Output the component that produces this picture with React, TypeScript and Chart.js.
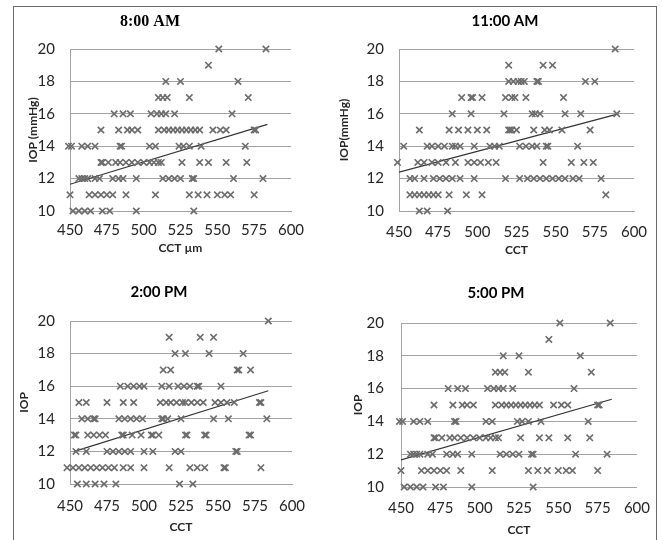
import React, { useEffect, useRef } from 'react';
import { Chart, registerables } from 'chart.js';

Chart.register(...registerables);

type Rows = [number, number[]][];

// IOP value -> list of CCT readings at that IOP
const am8Rows: Rows = [
  [20, [551, 583]],
  [19, [544]],
  [18, [515, 525, 564]],
  [17, [510, 513, 516, 531, 571]],
  [16, [480, 486, 491, 505, 509, 512, 515, 521, 560]],
  [15, [471, 483, 489, 492, 496, 510, 514, 517, 520, 523, 526, 529, 532, 535, 538, 547, 552, 556, 575, 576]],
  [14, [449, 451, 458, 462, 467, 484, 485, 504, 508, 524, 527, 531, 539, 569]],
  [13, [471, 472, 476, 481, 484, 488, 492, 496, 500, 504, 507, 510, 512, 526, 538, 544, 556, 570]],
  [12, [456, 458, 460, 462, 467, 470, 479, 483, 486, 495, 513, 517, 521, 525, 533, 534, 561, 581]],
  [11, [450, 463, 467, 471, 475, 479, 488, 508, 531, 537, 543, 550, 555, 559, 575]],
  [10, [452, 456, 460, 464, 472, 477, 495, 534]],
];

const am11Rows: Rows = [
  [20, [588]],
  [19, [520, 542, 548]],
  [18, [520, 523, 526, 528, 530, 538, 539, 569, 575]],
  [17, [490, 496, 497, 503, 518, 522, 524, 531, 555]],
  [16, [484, 496, 517, 535, 537, 540, 556, 566, 589]],
  [15, [463, 482, 488, 494, 500, 506, 520, 521, 522, 525, 536, 543, 546, 554, 572]],
  [14, [453, 468, 471, 475, 479, 484, 486, 489, 498, 508, 511, 514, 527, 531, 535, 538, 544, 545, 564]],
  [13, [449, 462, 466, 471, 475, 480, 486, 494, 498, 502, 507, 512, 542, 560, 568, 574]],
  [12, [457, 460, 466, 472, 476, 480, 484, 489, 498, 518, 527, 532, 536, 540, 544, 548, 552, 556, 561, 565, 579]],
  [11, [457, 460, 463, 466, 469, 472, 475, 482, 493, 503, 582]],
  [10, [463, 468, 481]],
];

const pm2Rows: Rows = [
  [20, [584]],
  [19, [517, 538, 547]],
  [18, [521, 528, 544, 567]],
  [17, [513, 518, 563, 564, 572]],
  [16, [484, 489, 493, 497, 500, 512, 517, 523, 527, 531, 536, 537, 552]],
  [15, [456, 461, 475, 486, 493, 511, 515, 518, 522, 526, 528, 532, 536, 540, 548, 552, 556, 561, 578, 579]],
  [14, [458, 462, 466, 467, 483, 487, 491, 495, 499, 512, 513, 516, 525, 547, 557, 583]],
  [13, [453, 454, 462, 466, 470, 474, 485, 486, 492, 498, 505, 506, 510, 528, 529, 541, 542, 571, 572]],
  [12, [454, 461, 475, 479, 483, 487, 491, 500, 506, 521, 525, 562, 563]],
  [11, [448, 452, 456, 460, 464, 468, 472, 476, 480, 486, 491, 500, 517, 531, 536, 541, 554, 555, 579]],
  [10, [455, 461, 467, 473, 481, 524, 533]],
];

const pm5Rows: Rows = [
  [20, [551, 583]],
  [19, [544]],
  [18, [515, 525, 564]],
  [17, [510, 513, 516, 531, 571]],
  [16, [480, 486, 491, 505, 509, 512, 515, 521, 560]],
  [15, [471, 483, 489, 492, 496, 510, 514, 517, 520, 523, 526, 529, 532, 535, 538, 547, 552, 556, 575, 576]],
  [14, [449, 451, 458, 462, 467, 484, 485, 504, 508, 524, 527, 531, 539, 569]],
  [13, [471, 472, 476, 481, 484, 488, 492, 496, 500, 504, 507, 510, 512, 526, 538, 544, 556, 570]],
  [12, [456, 458, 460, 462, 467, 470, 479, 483, 486, 495, 513, 517, 521, 525, 533, 534, 561, 581]],
  [11, [450, 463, 467, 471, 475, 479, 488, 508, 531, 537, 543, 550, 555, 559, 575]],
  [10, [452, 456, 460, 464, 472, 477, 495, 534]],
];

// linear trend lines: [CCT, IOP] endpoints
const am8Trend: [number, number][] = [[450, 11.65], [584, 15.35]];
const am11Trend: [number, number][] = [[450, 12.4], [590, 16.0]];
const pm2Trend: [number, number][] = [[453, 12.0], [584, 15.72]];
const pm5Trend: [number, number][] = [[450, 11.65], [584, 15.35]];

const xTicks = [450, 475, 500, 525, 550, 575, 600];
const yTicks = [10, 12, 14, 16, 18, 20];

const W = 662;
const H = 540;

interface PanelCfg {
  title: string;
  titleFamily: string;
  titleSize: number;
  titlePad: { top: number; bottom: number };
  rows: Rows;
  trend: [number, number][];
  xTitle: string;
  yTitle: string;
  pad: { left: number; right: number; top: number; bottom: number };
  yWidth: number;
  rightGap: number;
  xHeight: number;
  yTitlePad: number;
  xTitlePad: number;
  yTickPad: number;
  xTickPad: number;
}

const panels: PanelCfg[] = [
  {
    title: '8:00 AM', titleFamily: '"Liberation Serif", serif', titleSize: 16,
    titlePad: { top: 12.4, bottom: 17.4 }, rows: am8Rows, trend: am8Trend,
    xTitle: 'CCT µm', yTitle: 'IOP (mmHg)',
    pad: { left: 9, right: 371, top: 0, bottom: 279 }, yWidth: 61, rightGap: 0, xHeight: 50,
    yTitlePad: 17.3, xTitlePad: 5.8, yTickPad: 15, xTickPad: 10,
  },
  {
    title: '11:00 AM', titleFamily: 'Lato, sans-serif', titleSize: 15,
    titlePad: { top: 12.5, bottom: 18.5 }, rows: am11Rows, trend: am11Trend,
    xTitle: 'CCT', yTitle: 'IOP(mmHg)',
    pad: { left: 360, right: 12, top: 0, bottom: 279 }, yWidth: 39, rightGap: 16, xHeight: 50,
    yTitlePad: -23.2, xTitlePad: 3.8, yTickPad: 15, xTickPad: 12,
  },
  {
    title: '2:00 PM', titleFamily: 'Lato, sans-serif', titleSize: 15,
    titlePad: { top: 13, bottom: 20 }, rows: pm2Rows, trend: pm2Trend,
    xTitle: 'CCT', yTitle: 'IOP',
    pad: { left: 26, right: 370, top: 270, bottom: 4 }, yWidth: 44, rightGap: 0, xHeight: 52,
    yTitlePad: -9.2, xTitlePad: 1.3, yTickPad: 15, xTickPad: 13,
  },
  {
    title: '5:00 PM', titleFamily: 'Lato, sans-serif', titleSize: 15,
    titlePad: { top: 14, bottom: 21 }, rows: pm5Rows, trend: pm5Trend,
    xTitle: 'CCT', yTitle: 'IOP',
    pad: { left: 353, right: 23, top: 270, bottom: 1 }, yWidth: 48, rightGap: 0, xHeight: 52,
    yTitlePad: -2.2, xTitlePad: 1.8, yTickPad: 17, xTickPad: 12,
  },
];

const GRID = '#a3a3a3';
const MARK = '#6c6c6c';
const TEXT = '#262626';

function Panel({ cfg }: { cfg: PanelCfg }) {
  const ref = useRef<HTMLCanvasElement | null>(null);
  useEffect(() => {
    if (!ref.current) return;
    const points = cfg.rows.flatMap(([iop, ccts]) => ccts.map((c) => ({ x: c, y: iop })));
    const trend = cfg.trend.map(([x, y]) => ({ x, y }));
    const scales: any = {
      x: {
        type: 'linear',
        min: 450,
        max: 600,
        afterBuildTicks: (s: any) => { s.ticks = xTicks.map((v) => ({ value: v })); },
        afterFit: (s: any) => { s.height = cfg.xHeight; },
        ticks: {
          color: TEXT,
          font: { family: 'Lato, sans-serif', size: 15, lineHeight: 1.2 },
          padding: cfg.xTickPad,
          maxRotation: 0,
          autoSkip: false,
        },
        grid: { display: false, drawTicks: false },
        border: { display: true, color: GRID, width: 1 },
        title: {
          display: true,
          text: cfg.xTitle,
          color: TEXT,
          font: { family: 'Lato, sans-serif', size: 12, weight: 'bold', lineHeight: 1.2 },
          padding: { top: 0, bottom: cfg.xTitlePad },
        },
      },
      y: {
        type: 'linear',
        min: 10,
        max: 20,
        afterBuildTicks: (s: any) => { s.ticks = yTicks.map((v) => ({ value: v })); },
        afterFit: (s: any) => { s.width = cfg.yWidth; },
        ticks: {
          color: TEXT,
          font: { family: 'Lato, sans-serif', size: 15, lineHeight: 1.2 },
          padding: cfg.yTickPad,
          autoSkip: false,
        },
        grid: { color: GRID, drawTicks: false, lineWidth: 1 },
        border: { display: true, color: GRID, width: 1 },
        title: {
          display: true,
          text: cfg.yTitle,
          color: TEXT,
          font: { family: 'Lato, sans-serif', size: 12, weight: 'bold', lineHeight: 1.2 },
          padding: { top: cfg.yTitlePad, bottom: 0 },
        },
      },
    };
    if (cfg.rightGap > 0) {
      scales.yGap = {
        type: 'linear',
        axis: 'y',
        position: 'right',
        min: 10,
        max: 20,
        afterFit: (s: any) => { s.width = cfg.rightGap; },
        ticks: { display: false },
        grid: { display: false, drawTicks: false },
        border: { display: false },
        title: { display: false },
      };
    }
    const chart = new Chart(ref.current, {
      type: 'scatter',
      data: {
        datasets: [
          {
            data: points,
            pointStyle: 'crossRot',
            pointRadius: 4.5,
            pointBorderWidth: 1.6,
            borderColor: MARK,
            backgroundColor: MARK,
            showLine: false,
            clip: false,
          } as any,
          {
            data: trend,
            showLine: true,
            borderColor: '#333333',
            borderWidth: 1.2,
            pointRadius: 0,
            fill: false,
          } as any,
        ],
      },
      options: {
        animation: false,
        responsive: false,
        events: [],
        layout: { padding: cfg.pad },
        plugins: {
          legend: { display: false },
          tooltip: { enabled: false },
          title: {
            display: true,
            text: cfg.title,
            color: '#000',
            fullSize: true,
            align: 'center',
            font: { family: cfg.titleFamily, size: cfg.titleSize, weight: 'bold', lineHeight: 1.2 },
            padding: cfg.titlePad,
          },
        },
        scales,
      } as any,
    });
    return () => chart.destroy();
  }, [cfg]);
  return (
    <canvas
      ref={ref}
      width={W}
      height={H}
      style={{ position: 'absolute', left: 0, top: 0, width: W, height: H }}
    />
  );
}

export default function App() {
  return (
    <div
      style={{
        position: 'absolute',
        left: 0,
        top: 0,
        width: W,
        height: H,
        overflow: 'hidden',
        background: '#fff',
      }}
    >
      <div
        style={{
          position: 'absolute',
          left: 13,
          top: 6,
          width: 642,
          height: 600,
          borderTop: '1px solid #6a6a6a',
          borderLeft: '1.5px solid #6a6a6a',
          borderRight: '1.5px solid #6a6a6a',
        }}
      />
      {panels.map((p) => (
        <Panel key={p.title} cfg={p} />
      ))}
    </div>
  );
}
